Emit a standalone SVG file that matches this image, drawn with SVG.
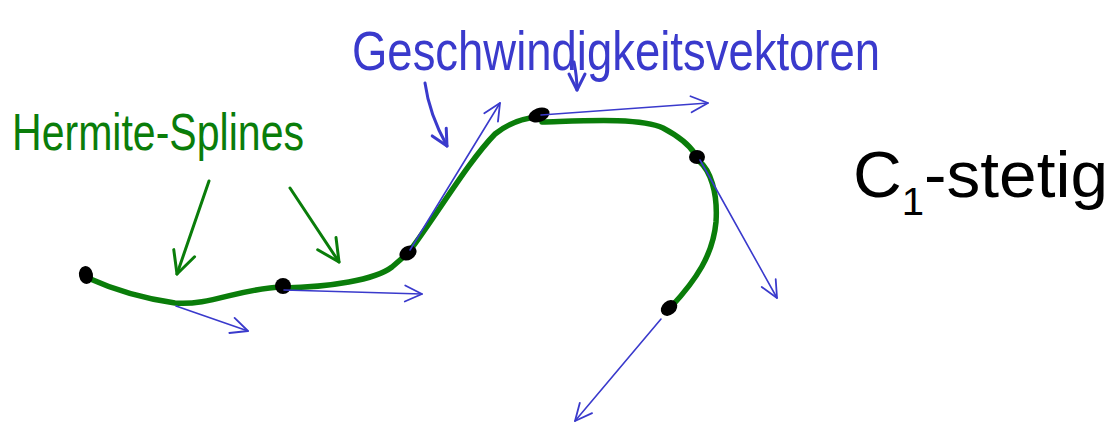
<svg xmlns="http://www.w3.org/2000/svg" width="1110" height="425" viewBox="0 0 1110 425">
<defs>
<marker id="vb" markerUnits="userSpaceOnUse" markerWidth="24" markerHeight="24" refX="20" refY="10" orient="auto" viewBox="0 0 24 20">
<path d="M3,2 L20,10 L3,18" fill="none" stroke="#3a3acc" stroke-width="1.8" stroke-linecap="round" stroke-linejoin="round"/>
</marker>
<marker id="lb" markerUnits="userSpaceOnUse" markerWidth="24" markerHeight="24" refX="20" refY="10" orient="auto" viewBox="0 0 24 20">
<path d="M4,2 L20,10 L4,18" fill="none" stroke="#3a3acc" stroke-width="3" stroke-linecap="round" stroke-linejoin="round"/>
</marker>
<marker id="gb" markerUnits="userSpaceOnUse" markerWidth="30" markerHeight="30" refX="26" refY="13" orient="auto" viewBox="0 0 30 26">
<path d="M4,2 L26,13 L4,24" fill="none" stroke="#0a7d0a" stroke-width="3" stroke-linecap="round" stroke-linejoin="round"/>
</marker>
</defs>
<style>
.curve{fill:none;stroke:#0a7d0a;stroke-width:5.5;stroke-linecap:round;stroke-linejoin:round}
.vec{fill:none;stroke:#3a3acc;stroke-width:1.6;stroke-linecap:round}
.gar{fill:none;stroke:#0a7d0a;stroke-width:3;stroke-linecap:round}
.bar{fill:none;stroke:#3a3acc;stroke-width:3;stroke-linecap:round}
.pt{fill:#000}
.hand{font-family:"Liberation Sans",sans-serif}
</style>
<rect width="1110" height="425" fill="#fff"/>
<g id="spline">
<path class="curve" d="M88,278 C110,288 140,298 175,303 C210,306 240,288 283,287"/>
<path class="curve" d="M283,288 C330,287 375,280 392,267 L407,254"/>
<path class="curve" d="M409,252 C440,210 468,162 495,134 C510,122 525,118 538,117"/>
<path class="curve" d="M542,122 C580,121 640,117 663,128 C680,137 690,146 695,154"/>
<path class="curve" d="M699,161 C710,170 718,192 716,222 C713,255 696,280 671,307"/>
</g>
<g id="points">
<ellipse class="pt" cx="86" cy="275" rx="7" ry="9" transform="rotate(-10 86 275)"/>
<ellipse class="pt" cx="283" cy="286" rx="8" ry="8"/>
<ellipse class="pt" cx="408" cy="253" rx="9" ry="7" transform="rotate(-30 408 253)"/>
<ellipse class="pt" cx="539" cy="115" rx="11" ry="7" transform="rotate(-20 539 115)"/>
<ellipse class="pt" cx="697" cy="157" rx="8" ry="7"/>
<ellipse class="pt" cx="669" cy="308" rx="9" ry="7" transform="rotate(-40 669 308)"/>
</g>
<g id="connectors">
<line class="vec" x1="176" y1="306" x2="248" y2="331" marker-end="url(#vb)"/>
<line class="vec" x1="284" y1="290" x2="422" y2="294" marker-end="url(#vb)"/>
<line class="vec" x1="410" y1="250" x2="500" y2="103" marker-end="url(#vb)"/>
<line class="vec" x1="541" y1="115" x2="708" y2="103" marker-end="url(#vb)"/>
<line class="vec" x1="700" y1="160" x2="777" y2="298" marker-end="url(#vb)"/>
<line class="vec" x1="661" y1="319" x2="575" y2="421" marker-end="url(#vb)"/>
<path class="gar" d="M209,181 L177,274" marker-end="url(#gb)"/>
<path class="gar" d="M290,188 L339,262" marker-end="url(#gb)"/>
<path class="bar" d="M425,83 C428,105 437,128 447,146" marker-end="url(#lb)"/>
<path class="bar" d="M574,62 C576,72 577,80 577,90" marker-end="url(#lb)"/>
</g>
<g id="label-hermite">
<text class="hand" x="12" y="150" font-size="52" fill="#0a7d0a" textLength="292" lengthAdjust="spacingAndGlyphs">Hermite-Splines</text>
</g>
<g id="label-geschw">
<text class="hand" x="352" y="70" font-size="56" fill="#3a3acc" textLength="528" lengthAdjust="spacingAndGlyphs">Geschwindigkeitsvektoren</text>
</g>
<g id="label-c1">
<text class="hand" x="853" y="197" font-size="64" fill="#000" textLength="255" lengthAdjust="spacingAndGlyphs">C<tspan font-size="38" dy="18">1</tspan><tspan dy="-18">-stetig</tspan></text>
</g>
</svg>
